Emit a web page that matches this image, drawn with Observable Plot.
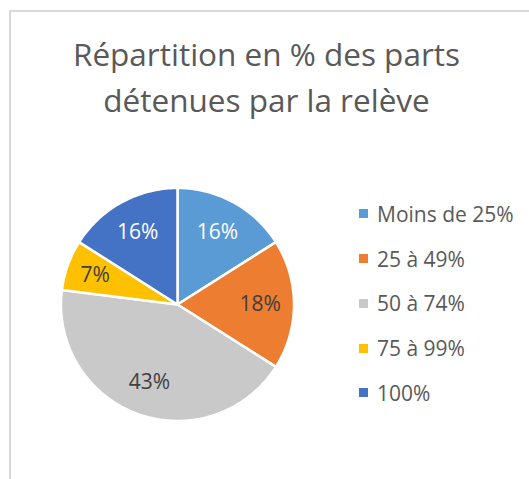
<!DOCTYPE html>
<html><head><meta charset="utf-8">
<script src="https://cdn.jsdelivr.net/npm/d3@7"></script>
<script src="https://cdn.jsdelivr.net/npm/@observablehq/plot@0.6"></script>
<style>
body{margin:0;background:#fff;font-family:"Open Sans",sans-serif;}
#wrap{position:relative;width:529px;height:479px;overflow:hidden;}
#frame{position:absolute;left:9px;top:10px;width:700px;height:700px;border-left:2px solid #d9d9d9;border-top:2px solid #d9d9d9;}
#title{position:absolute;left:10px;width:513px;top:31px;text-align:center;color:#595959;font-size:31.5px;line-height:46px;}
#pie{position:absolute;left:46.5px;top:173.5px;}
#legend{position:absolute;left:359px;top:191.6px;color:#595959;font-size:21px;}
.row{display:flex;align-items:center;height:44.75px;}
.sw{width:9px;height:9px;margin-right:9px;flex:none;}
</style></head>
<body><div id="wrap"><div id="frame"></div>
<div id="title">Répartition en % des parts<br>détenues par la relève</div>
<div id="pie"></div><div id="legend"></div></div>
<script>
const categories = ["Moins de 25%","25 à 49%","50 à 74%","75 à 99%","100%"];
const values = [16,18,43,7,16];
const labels = ["16%","18%","43%","7%","16%"];
const colors = ["#5B9BD5","#ED7D31","#C9C9C9","#FFC000","#4472C4"];
const labelOnDark = [true,false,false,false,true];

const data = categories.map((c,i)=>({cat:c, value:values[i], label:labels[i], dark:labelOnDark[i]}));
const arcs = d3.pie().sort(null).value(d=>d.value)(data);
const pts = [];
for (const a of arcs) {
  pts.push({cat:a.data.cat, x:0, y:0});
  const n = Math.max(2, Math.ceil((a.endAngle-a.startAngle)/0.02));
  for (let k=0;k<=n;k++){
    const t = a.startAngle + (a.endAngle-a.startAngle)*k/n;
    pts.push({cat:a.data.cat, x:Math.sin(t), y:Math.cos(t)});
  }
}
const lab = arcs.map(a=>{
  const m=(a.startAngle+a.endAngle)/2; const r=a.data.value<10?0.75:0.71;
  return {...a.data, x:r*Math.sin(m), y:r*Math.cos(m)};
});
const L = 130/116.5;
const chart = Plot.plot({
  width:260, height:260, margin:0,
  x:{domain:[-L,L], axis:null},
  y:{domain:[-L,L], axis:null},
  color:{domain:categories, range:colors},
  marks:[
    Plot.line(pts,{x:"x",y:"y",z:"cat",fill:"cat",stroke:"white",strokeWidth:2.5,curve:"linear-closed",strokeLinejoin:"round"}),
    Plot.text(lab.filter(d=>d.dark),{x:"x",y:"y",text:"label",fill:"white",fontSize:21,fontFamily:"Open Sans"}),
    Plot.text(lab.filter(d=>!d.dark),{x:"x",y:"y",text:"label",fill:"#404040",fontSize:21,fontFamily:"Open Sans"})
  ]
});
document.getElementById("pie").appendChild(chart);
const leg = document.getElementById("legend");
categories.forEach((c,i)=>{
  const r=document.createElement("div"); r.className="row";
  r.innerHTML=`<span class="sw" style="background:${colors[i]}"></span><span>${c}</span>`;
  leg.appendChild(r);
});
</script></body></html>
